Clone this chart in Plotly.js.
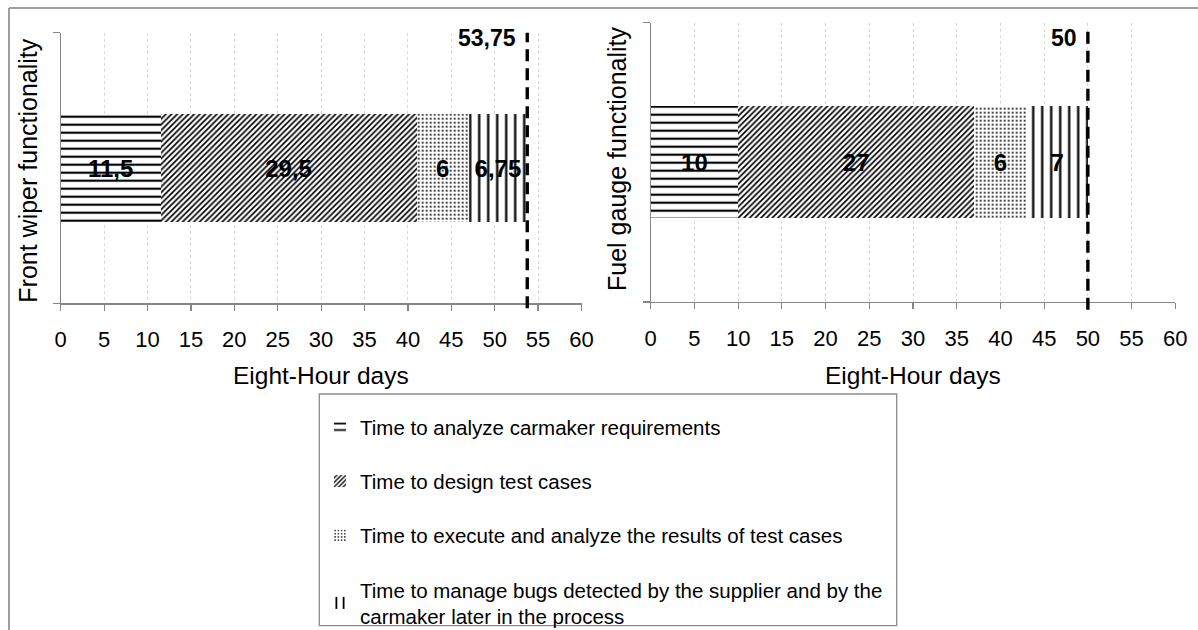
<!DOCTYPE html>
<html>
<head>
<meta charset="utf-8">
<script src="https://cdn.plot.ly/plotly-3.0.1.min.js"></script>
<style>
  html, body { margin: 0; padding: 0; background: #ffffff; }
  #chart { width: 1198px; height: 630px; }
</style>
</head>
<body>
<div id="chart"></div>
<script>
// ---- data ----
const seriesNames = [
  "Time to analyze carmaker requirements",
  "Time to design test cases",
  "Time to execute and analyze the results of test cases",
  "Time to manage bugs detected by the supplier and by the<br>carmaker later in the process"
];
const leftCategory = ["Front wiper functionality"];
const rightCategory = ["Fuel gauge functionality"];
const leftValues = [11.5, 29.5, 6, 6.75];
const rightValues = [10, 27, 6, 7];
const xTitle = "Eight-Hour days";

// ---- styles ----
const FONT = "Liberation Sans, Arial, Helvetica, sans-serif";
const patterns = [
  {shape: "-", size: 8, solidity: 0.27},
  {shape: "/", size: 4, solidity: 0.42},
  {shape: ".", size: 4, solidity: 0.18},
  {shape: "|", size: 9, solidity: 0.25}
];
const fmt = v => String(v).replace(".", ",");
const sum = a => a.reduce((s, v) => s + v, 0);

const W = 1198, H = 630;
const px = x => x / W;
const py = y => 1 - y / H;

function makeTraces(values, cat, xa, ya, showLegend) {
  return values.map((v, i) => ({
    type: "bar",
    orientation: "h",
    x: [v],
    y: cat,
    xaxis: xa,
    yaxis: ya,
    name: seriesNames[i],
    legendgroup: "g" + i,
    showlegend: showLegend,
    width: 0.4,
    marker: {
      color: "#ffffff",
      line: {width: 0},
      pattern: Object.assign({fgcolor: "#000000", bgcolor: "#ffffff", fillmode: "replace"}, patterns[i])
    },
    text: [fmt(v)],
    textposition: "inside",
    insidetextanchor: "middle",
    textangle: 0,
    constraintext: "none",
    textfont: {family: FONT, size: 24, color: "#000000", weight: "bold"},
    hoverinfo: "name+x"
  }));
}

const data = [].concat(
  makeTraces(leftValues, leftCategory, "x", "y", true),
  makeTraces(rightValues, rightCategory, "x2", "y2", false)
);

const leftTotal = sum(leftValues);
const rightTotal = sum(rightValues);

const xaxisBase = {
  range: [0, 60],
  dtick: 5,
  tick0: 0,
  showgrid: true,
  gridcolor: "#d9d9d9",
  griddash: "dot",
  gridwidth: 1,
  zeroline: false,
  showline: true,
  linecolor: "#868686",
  linewidth: 1.2,
  ticks: "outside",
  ticklen: 6,
  tickcolor: "#868686",
  tickwidth: 1.2,
  ticklabelstandoff: 10,
  tickfont: {family: FONT, size: 22, color: "#000000"},
  fixedrange: true
};
const yaxisBase = {
  type: "category",
  range: [-0.5, 0.5],
  tickson: "boundaries",
  ticks: "outside",
  ticklen: 7,
  tickcolor: "#868686",
  tickwidth: 1.2,
  showticklabels: false,
  showgrid: false,
  zeroline: false,
  showline: true,
  linecolor: "#868686",
  linewidth: 1.2,
  fixedrange: true
};

const layout = {
  width: W,
  height: H,
  margin: {l: 0, r: 0, t: 0, b: 0, autoexpand: false},
  paper_bgcolor: "#ffffff",
  plot_bgcolor: "#ffffff",
  barmode: "stack",
  separators: ", ",
  font: {family: FONT, color: "#000000"},
  xaxis: Object.assign({}, xaxisBase, {domain: [px(60.7), px(581.5)], anchor: "y"}),
  yaxis: Object.assign({}, yaxisBase, {domain: [py(303.3), py(32.7)], anchor: "x"}),
  xaxis2: Object.assign({}, xaxisBase, {domain: [px(650.7), px(1175.3)], anchor: "y2"}),
  yaxis2: Object.assign({}, yaxisBase, {domain: [py(302), py(22.7)], anchor: "x2"}),
  showlegend: true,
  legend: {
    x: px(320),
    xanchor: "left",
    y: py(407),
    yanchor: "top",
    traceorder: "grouped",
    tracegroupgap: 24.6,
    bgcolor: "rgba(0,0,0,0)",
    borderwidth: 0,
    font: {family: FONT, size: 20.5, color: "#000000"}
  },
  shapes: [
    // outer frame of the original chart area
    {type: "line", xref: "paper", yref: "paper", x0: px(9), x1: 1, y0: py(8), y1: py(8),
     line: {color: "#7f7f7f", width: 1.5}},
    {type: "line", xref: "paper", yref: "paper", x0: px(9), x1: px(9), y0: py(8), y1: 0,
     line: {color: "#7f7f7f", width: 1.5}},
    // legend box
    {type: "rect", xref: "paper", yref: "paper", x0: px(319.3), x1: px(896.7), y0: py(394), y1: py(625.7),
     line: {color: "#8c8c8c", width: 1.3}, fillcolor: "rgba(0,0,0,0)"},
    // total lines
    {type: "line", xref: "x", yref: "y domain", x0: leftTotal, x1: leftTotal, y0: -0.018, y1: 1,
     line: {color: "#000000", width: 3.4, dash: "12px,7px"}},
    {type: "line", xref: "x2", yref: "y2 domain", x0: rightTotal, x1: rightTotal, y0: -0.028, y1: 0.985,
     line: {color: "#000000", width: 3.4, dash: "12px,7px"}}
  ],
  annotations: [
    {xref: "x", yref: "paper", x: leftTotal, y: py(37.5), xanchor: "right", yanchor: "middle", xshift: -9,
     text: fmt(leftTotal), showarrow: false, font: {family: FONT, size: 23, color: "#000000", weight: "bold"}},
    {xref: "x2", yref: "paper", x: rightTotal, y: py(37.5), xanchor: "right", yanchor: "middle", xshift: -9,
     text: fmt(rightTotal), showarrow: false, font: {family: FONT, size: 23, color: "#000000", weight: "bold"}},
    {xref: "x domain", yref: "paper", x: 0.5, y: py(375.5), xanchor: "center", yanchor: "middle",
     text: xTitle, showarrow: false, font: {family: FONT, size: 24.5, color: "#000000"}},
    {xref: "x2 domain", yref: "paper", x: 0.5, y: py(375.5), xanchor: "center", yanchor: "middle",
     text: xTitle, showarrow: false, font: {family: FONT, size: 24.5, color: "#000000"}},
    {xref: "paper", yref: "paper", x: px(27.7), y: py(170), xanchor: "center", yanchor: "middle", textangle: -90,
     text: leftCategory[0], showarrow: false, font: {family: FONT, size: 25, color: "#000000"}},
    {xref: "paper", yref: "paper", x: px(617), y: py(159), xanchor: "center", yanchor: "middle", textangle: -90,
     text: rightCategory[0], showarrow: false, font: {family: FONT, size: 25, color: "#000000"}}
  ]
};

Plotly.newPlot("chart", data, layout, {displayModeBar: false, staticPlot: true});
</script>
</body>
</html>
